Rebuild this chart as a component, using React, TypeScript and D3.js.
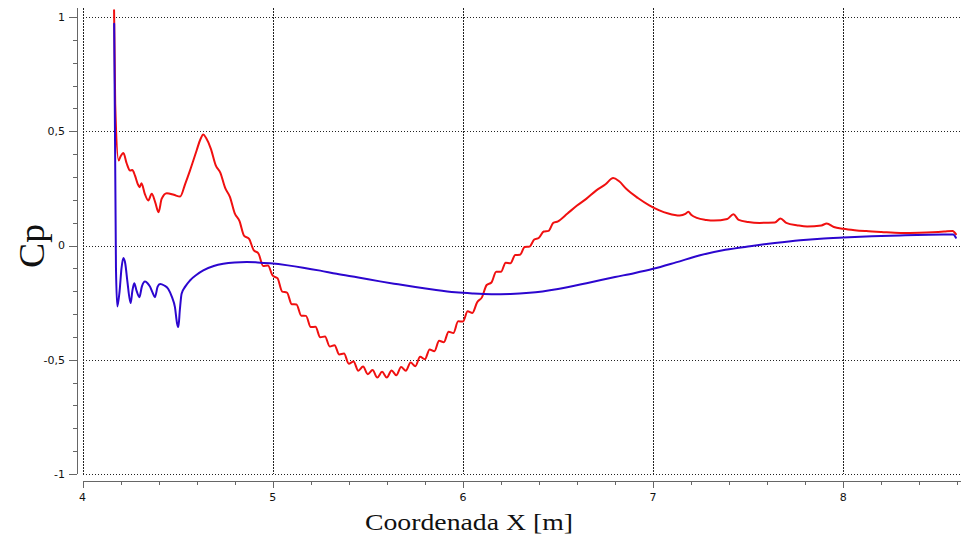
import React from "react";
import * as d3 from "d3";

// ---- data ----
const redX = [
  4.166, 4.172, 4.19, 4.2, 4.215, 4.232, 4.25, 4.262, 4.276, 4.29, 4.3, 4.31, 4.328, 4.346, 4.364, 4.382, 4.4, 4.416, 4.443, 4.48, 4.513, 4.54, 4.565, 4.6, 4.62, 4.635, 4.65,
  4.675, 4.7, 4.725, 4.75, 4.775, 4.8, 4.825, 4.85, 4.875, 4.9, 4.925, 4.95, 4.975, 5.0,
  5.025, 5.05, 5.075, 5.1, 5.125, 5.15, 5.175, 5.2, 5.225, 5.25, 5.275, 5.3, 5.325, 5.35, 5.375, 5.4,
  5.425, 5.45, 5.475, 5.5, 5.525, 5.55, 5.575, 5.6, 5.625, 5.65, 5.675, 5.7, 5.725, 5.75, 5.775, 5.8,
  5.825, 5.85, 5.875, 5.9, 5.925, 5.95, 5.975, 6.0, 6.025, 6.05, 6.075, 6.1, 6.125, 6.15, 6.175, 6.2,
  6.225, 6.25, 6.275, 6.3, 6.325, 6.35, 6.375, 6.4, 6.425, 6.45, 6.475, 6.5,
  6.55, 6.6, 6.65, 6.7, 6.75, 6.79, 6.82, 6.86, 6.92, 6.98, 7.03, 7.08, 7.14, 7.17, 7.185, 7.2, 7.23, 7.28, 7.32, 7.39, 7.422, 7.45, 7.5, 7.56, 7.64, 7.67, 7.7, 7.76, 7.81, 7.885, 7.913, 7.95, 8.0, 8.06, 8.12, 8.2, 8.3, 8.4, 8.47, 8.53, 8.575, 8.592,
];
const redY = [
  1.03, 0.62, 0.372, 0.39, 0.405, 0.36, 0.328, 0.33, 0.306, 0.27, 0.255, 0.272, 0.225, 0.197, 0.226, 0.19, 0.146, 0.204, 0.229, 0.222, 0.214, 0.27, 0.328, 0.416, 0.465, 0.486, 0.47,
  0.423, 0.352, 0.318, 0.252, 0.213, 0.142, 0.108, 0.042, 0.03, -0.02, -0.035, -0.09, -0.088, -0.132,
  -0.143, -0.202, -0.206, -0.257, -0.258, -0.307, -0.308, -0.357, -0.356, -0.402, -0.398, -0.442, -0.436, -0.477, -0.473, -0.517,
  -0.508, -0.548, -0.53, -0.563, -0.545, -0.578, -0.553, -0.578, -0.547, -0.568, -0.532, -0.548, -0.512, -0.528, -0.487, -0.498,
  -0.455, -0.463, -0.417, -0.423, -0.377, -0.383, -0.332, -0.333, -0.288, -0.295, -0.248, -0.227, -0.173, -0.162, -0.115, -0.115,
  -0.075, -0.078, -0.042, -0.041, -0.007, -0.005, 0.026, 0.034, 0.061, 0.064, 0.099, 0.106,
  0.14, 0.175, 0.205, 0.24, 0.268, 0.295, 0.282, 0.247, 0.208, 0.176, 0.155, 0.14, 0.131, 0.138, 0.148, 0.135, 0.121, 0.112, 0.109, 0.116, 0.137, 0.112, 0.103, 0.099, 0.101, 0.118, 0.099, 0.088, 0.083, 0.088, 0.096, 0.081, 0.073, 0.067, 0.063, 0.059, 0.055, 0.056, 0.058, 0.061, 0.064, 0.05,
];

const blueX = [
  4.1665, 4.176, 4.183, 4.195, 4.205, 4.215, 4.225, 4.235, 4.253, 4.262, 4.272, 4.285, 4.299, 4.312, 4.329, 4.342, 4.355, 4.368, 4.381, 4.395, 4.408, 4.43, 4.451, 4.47, 4.486, 4.497, 4.504, 4.512, 4.521, 4.54, 4.565, 4.6, 4.635, 4.69, 4.74, 4.8, 4.863, 4.92, 4.986, 5.08, 5.16, 5.25, 5.336, 5.45, 5.564, 5.66, 5.75, 5.85, 5.96, 6.05, 6.15, 6.25, 6.35, 6.5, 6.65, 6.8, 6.9, 7.0, 7.12, 7.247, 7.38, 7.51, 7.64, 7.773, 7.88, 8.0, 8.15, 8.298, 8.45, 8.578, 8.592,
];
const blueY = [
  0.97, -0.1, -0.267, -0.2, -0.1, -0.055, -0.08, -0.15, -0.252, -0.2, -0.165, -0.2, -0.226, -0.18, -0.158, -0.165, -0.18, -0.205, -0.226, -0.18, -0.168, -0.175, -0.19, -0.225, -0.27, -0.34, -0.357, -0.28, -0.211, -0.18, -0.153, -0.128, -0.109, -0.09, -0.08, -0.074, -0.072, -0.074, -0.078, -0.087, -0.097, -0.11, -0.124, -0.14, -0.157, -0.17, -0.182, -0.194, -0.205, -0.21, -0.213, -0.212, -0.207, -0.19, -0.165, -0.138, -0.121, -0.102, -0.074, -0.043, -0.019, -0.003, 0.011, 0.023, 0.03, 0.035, 0.04, 0.044, 0.047, 0.048, 0.034,
];

const xMajor = [4, 5, 6, 7, 8];
const yMajor = [-1, -0.5, 0, 0.5, 1];
const yLabels = ["-1", "-0,5", "0", "0,5", "1"];
const xTitle = "Coordenada X [m]";
const yTitle = "Cp";

// ---- layout ----
const W = 961, H = 537;
const plotL = 82.5, plotR = 961, plotT = 8, plotB = 474;
const yAxisX = 77, xAxisY = 481;

export default function App() {
  const x = d3.scaleLinear().domain([4, 4 + (plotR - plotL) / 190.2]).range([plotL, plotR]);
  const y = d3.scaleLinear().domain([-1, 1]).range([474, 17]);

  const xMinor = d3.range(4, 8.62, 0.2).map((v) => +v.toFixed(2)).filter((v) => !xMajor.includes(v));
  const yMinor = d3.range(-1, 1.0001, 0.1).map((v) => +v.toFixed(2)).filter((v) => !yMajor.includes(v));

  const line = d3
    .line<[number, number]>()
    .x((d) => x(d[0]))
    .y((d) => y(d[1]))
    .curve(d3.curveMonotoneX);

  const red = redX.map((v, i) => [v, redY[i]] as [number, number]);
  const blue = blueX.map((v, i) => [v, blueY[i]] as [number, number]);

  const gridColor = "#222";
  const axisColor = "#666";
  const tickFont = "'DejaVu Sans', Verdana, sans-serif";

  return (
    <svg width={W} height={H} style={{ position: "absolute", left: 0, top: 0, background: "#fff" }}>
      <defs>
        <clipPath id="plotclip">
          <rect x={plotL - 2} y={plotT} width={plotR - plotL + 2} height={plotB - plotT + 2} />
        </clipPath>
      </defs>
      <rect x={0} y={0} width={W} height={H} fill="#fff" />
      {/* grid */}
      <g stroke={gridColor} strokeWidth={1} strokeDasharray="1.5,1.5" shapeRendering="crispEdges">
        {xMajor.map((v) => (
          <line key={"gx" + v} x1={Math.round(x(v)) + 0.5} x2={Math.round(x(v)) + 0.5} y1={plotT} y2={plotB} />
        ))}
        {yMajor.map((v) => (
          <line key={"gy" + v} x1={plotL} x2={plotR} y1={Math.round(y(v)) + 0.5} y2={Math.round(y(v)) + 0.5} />
        ))}
      </g>
      {/* y axis */}
      <g stroke={axisColor} strokeWidth={1} shapeRendering="crispEdges">
        <line x1={yAxisX + 0.5} x2={yAxisX + 0.5} y1={plotT} y2={plotB} />
        {yMajor.map((v) => (
          <line key={"ty" + v} x1={yAxisX - 8} x2={yAxisX} y1={Math.round(y(v)) + 0.5} y2={Math.round(y(v)) + 0.5} />
        ))}
        {yMinor.map((v) => (
          <line key={"tym" + v} x1={yAxisX - 4} x2={yAxisX} y1={Math.round(y(v)) + 0.5} y2={Math.round(y(v)) + 0.5} />
        ))}
      </g>
      <g fontFamily={tickFont} fontSize={11} fill="#111" textAnchor="end">
        {yMajor.map((v, i) => (
          <text key={"ly" + v} x={yAxisX - 12} y={y(v)} dy="0.35em">
            {yLabels[i]}
          </text>
        ))}
      </g>
      {/* x axis */}
      <g stroke={axisColor} strokeWidth={1} shapeRendering="crispEdges">
        <line x1={plotL} x2={plotR} y1={xAxisY + 0.5} y2={xAxisY + 0.5} />
        {xMajor.map((v) => (
          <line key={"tx" + v} x1={Math.round(x(v)) + 0.5} x2={Math.round(x(v)) + 0.5} y1={xAxisY} y2={xAxisY + 7} />
        ))}
        {xMinor.map((v) => (
          <line key={"txm" + v} x1={Math.round(x(v)) + 0.5} x2={Math.round(x(v)) + 0.5} y1={xAxisY} y2={xAxisY + 4} />
        ))}
      </g>
      <g fontFamily={tickFont} fontSize={11} fill="#111" textAnchor="middle">
        {xMajor.map((v) => (
          <text key={"lx" + v} x={x(v)} y={501}>
            {v}
          </text>
        ))}
      </g>
      {/* curves */}
      <g clipPath="url(#plotclip)" fill="none" strokeWidth={2} strokeLinejoin="round" strokeLinecap="round">
        <path d={line(red) || ""} stroke="#f01010" />
        <path d={line(blue) || ""} stroke="#2c06cf" />
      </g>
      {/* titles */}
      <text
        x={469}
        y={530}
        textAnchor="middle"
        fontFamily="'Liberation Serif', 'Times New Roman', serif"
        fontSize={24}
        textLength={208}
        lengthAdjust="spacingAndGlyphs"
        fill="#111"
      >
        {xTitle}
      </text>
      <text
        transform="translate(44,246) rotate(-90)"
        textAnchor="middle"
        fontFamily="'Liberation Serif', 'Times New Roman', serif"
        fontSize={36}
        textLength={44}
        lengthAdjust="spacingAndGlyphs"
        fill="#111"
      >
        {yTitle}
      </text>
    </svg>
  );
}
